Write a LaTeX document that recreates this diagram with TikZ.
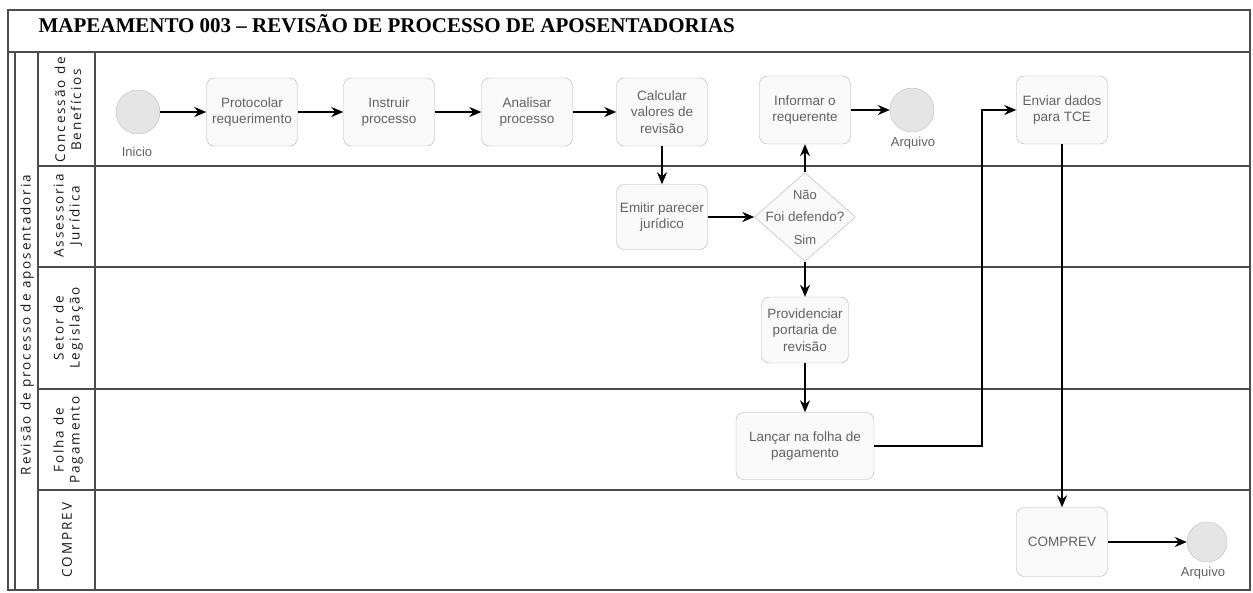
\documentclass[tikz,border=0pt]{standalone}
\usepackage{fontspec}
\setmainfont{Liberation Serif}
\newfontfamily\taskfont{Liberation Sans}
\newfontfamily\lanefont[LetterSpace=14]{Open Sans}
\usetikzlibrary{arrows.meta,shapes.geometric}

\tikzset{
  task/.style={draw=gray!60, fill=gray!4, rounded corners=8pt, minimum width=91pt,
    minimum height=68pt, align=center, text=black!62, inner sep=2pt,
    font=\taskfont\fontsize{13.5}{16.5}\selectfont},
  event/.style={circle, draw=gray!50, fill=gray!20, minimum size=44pt, inner sep=0pt},
  gate/.style={diamond, draw=gray!60, fill=gray!4, minimum width=101pt,
    minimum height=86pt, inner sep=0pt, text=black!62,
    font=\taskfont\fontsize{13.5}{16.5}\selectfont},
  caption/.style={text=black!62, inner sep=0pt, font=\taskfont\fontsize{13}{15}\selectfont},
  flow/.style={-{Stealth[length=12pt,width=10pt]}, line width=1.7pt},
  lanename/.style={rotate=90, align=center, text=black!90,
    font=\lanefont\fontsize{13.5}{16}\selectfont},
  rule/.style={draw=black!70, line width=1.2pt}
}

\begin{document}
\begin{tikzpicture}[x=1pt, y=-1pt]
        \useasboundingbox (0,0) rectangle (1253,592);
        % frame and lanes
        \draw[rule] (8,10) rectangle (1250,590);
        \draw[rule] (8,52) -- (1250,52);
        \draw[rule] (15,52) -- (15,590);
        \draw[rule] (38,52) -- (38,590);
        \draw[rule] (95,52) -- (95,590);
        \foreach \y in {166,267,389,490}
          \draw[rule] (38,\y) -- (1250,\y);

        \node[anchor=base west, font=\bfseries\fontsize{21}{25}\selectfont] (title) at (35,32)
          {MAPEAMENTO 003 – REVISÃO DE PROCESSO DE APOSENTADORIAS};

        \node[lanename] (pool) at (27,325) {Revisão de processo de aposentadoria};
        \node[lanename] (lane1) at (68,110) {Concessão de\\Benefícios};
        \node[lanename] (lane2) at (68,216) {Assessoria\\Jurídica};
        \node[lanename] (lane3) at (68,328) {Setor de\\Legislação};
        \node[lanename] (lane4) at (68,440) {Folha de\\Pagamento};
        \node[lanename] (lane5) at (67,540) {COMPREV};

        % tasks
        \node[event] (inicio) at (138,112) {};
        \node[caption] (inicioTxt) at (137,152) {Inicio};
        \node[task] (protocolar) at (252,112) {Protocolar\\requerimento};
        \node[task] (instruir) at (389,112) {Instruir\\processo};
        \node[task] (analisar) at (527,112) {Analisar\\processo};
        \node[task] (calcular) at (662,112) {Calcular\\valores de\\revisão};
        \node[task] (informar) at (805,110) {Informar o\\requerente};
        \node[event] (arquivoA) at (912,110) {};
        \node[caption] (arquivoAtxt) at (913,143) {Arquivo};
        \node[task] (enviar) at (1062,110) {Enviar dados\\para TCE};

        \node[task, minimum height=65pt] (emitir) at (662,217) {Emitir parecer\\jurídico};
        \node[gate] (defendo) at (805,217) {Foi defendo?};
        \node[caption] (nao) at (805,195) {Não};
        \node[caption] (sim) at (805,240) {Sim};

        \node[task, minimum width=87pt, minimum height=66pt] (providenciar) at (805,330)
          {Providenciar\\portaria de\\revisão};
        \node[task, minimum width=138pt, minimum height=67pt] (lancar) at (805,446)
          {Lançar na folha de\\pagamento};

        \node[task, minimum height=69pt] (comprev) at (1062,542) {COMPREV};
        \node[event, minimum size=40pt] (arquivoB) at (1207,542) {};
        \node[caption] (arquivoBtxt) at (1203,573) {Arquivo};

        \coordinate (volta) at (982,110);

        \draw[flow] (inicio) -- (protocolar);
        \draw[flow] (protocolar) -- (instruir);
        \draw[flow] (instruir) -- (analisar);
        \draw[flow] (analisar) -- (calcular);
        \draw[flow] (calcular) -- (emitir);
        \draw[flow] (emitir) -- (defendo);
        \draw[flow] (defendo) -- (informar);
        \draw[flow] (informar) -- (arquivoA);
        \draw[flow] (defendo) -- (providenciar);
        \draw[flow] (providenciar) -- (lancar);
        \draw[flow] (lancar) -| (volta) -- (enviar);
        \draw[flow] (enviar) -- (comprev);
        \draw[flow] (comprev) -- (arquivoB);
    \end{tikzpicture}
\end{document}
